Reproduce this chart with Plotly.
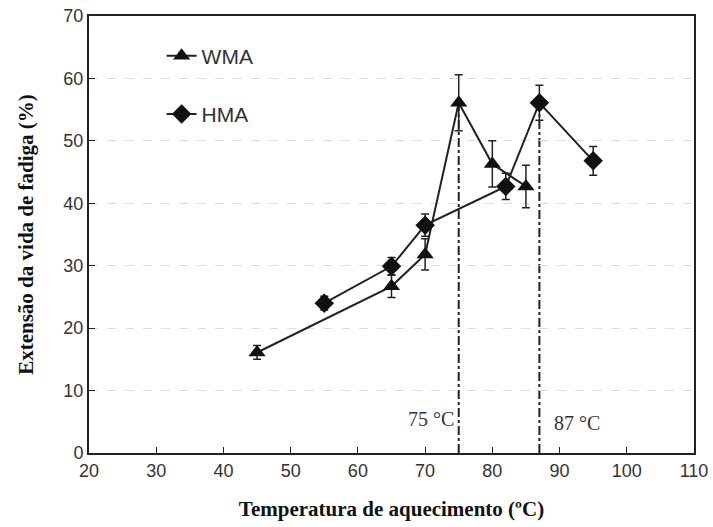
import plotly.graph_objects as go

# dados
temp_wma = [45, 65, 70, 75, 80, 85]
ext_wma = [16.1, 26.7, 31.8, 56.1, 46.3, 42.7]
err_wma = [1.1, 1.8, 2.5, 4.5, 3.7, 3.4]

temp_hma = [55, 65, 70, 82, 87, 95]
ext_hma = [24.0, 29.9, 36.5, 42.7, 56.1, 46.8]
err_hma = [1.1, 1.4, 1.8, 2.1, 2.8, 2.3]

picos_x = [75, 87]
picos_y = [56.1, 56.1]
picos_txt = ['75 °C', '87 °C']

fig = go.Figure()
fig.add_trace(go.Scatter(
    x=temp_wma, y=ext_wma, name='WMA', mode='lines+markers',
    line=dict(color='#222222', width=2),
    marker=dict(symbol='triangle-up', size=15, color='#111111'),
    error_y=dict(type='data', array=err_wma, color='#222222', thickness=1.5, width=4),
    legendgroup='a'))
fig.add_trace(go.Scatter(
    x=temp_hma, y=ext_hma, name='HMA', mode='lines+markers',
    line=dict(color='#222222', width=2),
    marker=dict(symbol='diamond', size=15, color='#111111'),
    error_y=dict(type='data', array=err_hma, color='#222222', thickness=1.5, width=4),
    legendgroup='b'))

for px_, py_ in zip(picos_x, picos_y):
    fig.add_shape(type='line', x0=px_, x1=px_, y0=0, y1=py_,
                  line=dict(color='#222222', width=2, dash='dashdot'), layer='below')

fig.add_annotation(x=picos_x[0], y=6, text=picos_txt[0], showarrow=False, xanchor='right',
                   xshift=-3, yshift=-3, font=dict(family='Liberation Serif', size=20, color='#333333'))
fig.add_annotation(x=picos_x[1], y=5, text=picos_txt[1], showarrow=False, xanchor='left',
                   xshift=13, yshift=-1, font=dict(family='Liberation Serif', size=20, color='#333333'))

fig.update_layout(
    width=713, height=527, template='plotly_white',
    plot_bgcolor='white', paper_bgcolor='white',
    margin=dict(l=89, r=19, t=16, b=74),
    font=dict(family='Liberation Sans', size=18, color='#333333'),
    showlegend=True,
    legend=dict(x=0.12, y=0.955, xanchor='left', yanchor='top', tracegroupgap=28,
                bgcolor='rgba(0,0,0,0)', font=dict(size=21, color='#333333')),
)
fig.update_xaxes(range=[20, 110], dtick=10, showgrid=False, zeroline=False, automargin=False,
                 showline=True, linecolor='#222222', linewidth=2, mirror=True,
                 ticks='inside', ticklen=6, tickcolor='#222222',
                 title=dict(text='<b>Temperatura de aquecimento (ºC)</b>', standoff=22,
                            font=dict(family='Liberation Serif', size=21, color='#111111')))
fig.update_yaxes(range=[0, 70], dtick=10, showgrid=True, gridcolor='#dddddd', griddash='dash',
                 zeroline=False, showline=True, linecolor='#222222', linewidth=2, mirror=True,
                 ticks='inside', ticklen=6, tickcolor='#222222', automargin=False,
                 title=dict(text='<b>Extensão da vida de fadiga (%)</b>', standoff=24,
                            font=dict(family='Liberation Serif', size=21, color='#111111')))

# tira a margem do body para a figura ocupar a janela inteira
fig.write_html('out.html', config={'displayModeBar': False},
               post_script="document.body.style.margin='0';document.body.style.overflow='hidden';")
